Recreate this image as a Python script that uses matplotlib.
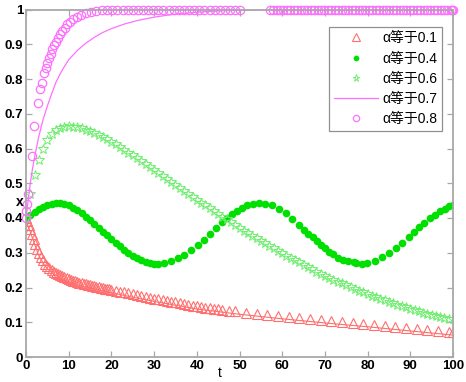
import matplotlib
matplotlib.use('Agg')
import matplotlib.pyplot as plt

plt.rcParams['font.family'] = ['Liberation Sans', 'Noto Sans CJK SC', 'DejaVu Sans']

# alpha = 0.1 (triangles) and the thin line under them
t_a1 = [0, 0.3, 0.6, 1, 1.4, 1.8, 2.2, 2.6, 3, 3.5, 4, 4.5, 5, 5.5, 6, 6.5, 7, 7.5, 8, 8.5,
        9, 9.5, 10, 10.5, 11, 11.5, 12, 12.5, 13, 13.5, 14, 14.5, 15, 15.5, 16, 16.5, 17, 17.5,
        18, 18.5, 19, 19.5, 20, 21, 22, 23, 24, 25, 26, 27, 28, 29, 30, 31, 32, 33, 34, 35,
        36, 37, 38, 39, 40, 41, 42, 43, 44, 45, 46, 47.5, 49, 51.5, 54, 56.5, 59, 61.5, 64,
        66.5, 69, 71.5, 74, 76.5, 79, 81.5, 84, 86.5, 89, 91.5, 94, 96.5, 99, 100]
x_a1 = [0.400, 0.390, 0.381, 0.368, 0.355, 0.340, 0.325, 0.310, 0.298, 0.288, 0.278, 0.269,
        0.262, 0.256, 0.251, 0.246, 0.242, 0.238, 0.235, 0.232, 0.229, 0.227, 0.224, 0.222,
        0.220, 0.218, 0.216, 0.214, 0.212, 0.211, 0.209, 0.208, 0.206, 0.205, 0.204, 0.202,
        0.201, 0.200, 0.198, 0.197, 0.196, 0.195, 0.193, 0.191, 0.188, 0.186, 0.183, 0.180,
        0.178, 0.176, 0.173, 0.171, 0.168, 0.166, 0.163, 0.161, 0.159, 0.157, 0.154, 0.152,
        0.150, 0.148, 0.146, 0.144, 0.142, 0.140, 0.139, 0.137, 0.135, 0.133, 0.131, 0.127,
        0.124, 0.121, 0.118, 0.115, 0.112, 0.109, 0.106, 0.103, 0.100, 0.097, 0.095, 0.092,
        0.089, 0.086, 0.083, 0.081, 0.078, 0.075, 0.072, 0.071]
t_a1_line = [0, 1, 2, 3, 4, 5, 6, 8, 10, 12, 15, 20, 25, 30, 40, 50, 60, 70, 80, 90, 100]
x_a1_line = [0.392, 0.360, 0.325, 0.292, 0.270, 0.254, 0.243, 0.227, 0.216, 0.208, 0.198,
             0.185, 0.172, 0.160, 0.138, 0.123, 0.110, 0.098, 0.087, 0.075, 0.063]

# alpha = 0.4 (filled dots)
t_a4 = [0, 1, 2, 3, 4, 5, 6, 7, 8, 9, 10, 11, 12, 13, 14, 15, 16, 17, 18, 19, 20, 21, 22, 23,
        24, 25, 26, 27, 28, 29, 30, 31, 32.4, 33.9, 35.5, 37.1, 38.7, 40.2, 41.7, 43.1, 44.5,
        45.8, 47.0, 48.2, 49.3, 50.5, 51.7, 53.1, 54.6, 56.0, 57.5, 59.3, 60.8, 62.4, 64.0,
        65.1, 66.1, 67.1, 68.1, 69.0, 70.0, 71.0, 72.0, 73.0, 74.3, 75.5, 76.7, 77.4, 78.6,
        79.9, 81.7, 83.3, 84.9, 86.6, 88.1, 89.7, 90.9, 92.0, 93.2, 94.5, 95.8, 96.9, 98.1,
        99.1, 100]
x_a4 = [0.400, 0.409, 0.418, 0.425, 0.431, 0.437, 0.441, 0.443, 0.444, 0.441, 0.436, 0.430,
        0.422, 0.413, 0.403, 0.393, 0.383, 0.372, 0.361, 0.350, 0.339, 0.328, 0.318, 0.308,
        0.299, 0.291, 0.284, 0.278, 0.274, 0.270, 0.268, 0.267, 0.271, 0.276, 0.284, 0.294,
        0.307, 0.322, 0.338, 0.355, 0.372, 0.388, 0.401, 0.412, 0.421, 0.429, 0.436, 0.441,
        0.443, 0.441, 0.437, 0.427, 0.414, 0.397, 0.380, 0.366, 0.355, 0.344, 0.334, 0.322,
        0.313, 0.303, 0.295, 0.286, 0.280, 0.276, 0.272, 0.271, 0.268, 0.271, 0.277, 0.287,
        0.300, 0.314, 0.329, 0.344, 0.359, 0.374, 0.387, 0.399, 0.410, 0.420, 0.427, 0.434,
        0.437]

# alpha = 0.6 (open stars)
t_a6 = list(range(0, 101))
x_a6 = [0.400, 0.470, 0.525, 0.567, 0.600, 0.624, 0.641, 0.652, 0.659, 0.663, 0.664, 0.663,
        0.661, 0.658, 0.654, 0.649, 0.644, 0.638, 0.632, 0.626, 0.619, 0.612, 0.604, 0.596,
        0.588, 0.580, 0.572, 0.563, 0.555, 0.546, 0.538, 0.529, 0.521, 0.512, 0.504, 0.495,
        0.487, 0.478, 0.470, 0.461, 0.453, 0.444, 0.436, 0.428, 0.420, 0.412, 0.404, 0.396,
        0.388, 0.380, 0.372, 0.364, 0.357, 0.349, 0.342, 0.334, 0.327, 0.320, 0.313, 0.306,
        0.299, 0.292, 0.286, 0.279, 0.273, 0.266, 0.259, 0.252, 0.246, 0.240, 0.234, 0.228,
        0.223, 0.217, 0.212, 0.206, 0.201, 0.196, 0.191, 0.186, 0.181, 0.176, 0.172, 0.167,
        0.163, 0.159, 0.155, 0.151, 0.147, 0.143, 0.139, 0.135, 0.132, 0.128, 0.125, 0.122,
        0.119, 0.116, 0.113, 0.110, 0.108]

# alpha = 0.7 (line)
t_a7 = [0, 0.5, 1, 1.5, 2, 2.5, 3, 4, 5, 6, 7, 8, 9, 10, 12, 14, 16, 18, 20, 23, 26, 30, 35,
        40, 45, 50, 60, 70, 80, 90, 100]
x_a7 = [0.400, 0.450, 0.500, 0.540, 0.575, 0.605, 0.635, 0.683, 0.722, 0.757, 0.790, 0.815,
        0.836, 0.855, 0.882, 0.903, 0.920, 0.934, 0.945, 0.958, 0.968, 0.978, 0.987, 0.992,
        0.996, 0.998, 1.0, 1.0, 1.0, 1.0, 1.0]

# alpha = 0.8 (open circles)
t_a8 = [0, 0.1, 0.25, 0.5, 1.3, 1.95, 2.7, 3.3, 3.7, 4.2, 4.6, 5.0, 5.4, 5.8, 6.2, 6.6, 7.0,
        7.5, 8.0, 8.5, 9.1, 9.7, 10.3, 11.0, 11.9, 12.9, 14.0, 15.2, 16.5, 17.8, 19.0, 20.2,
        21.4, 22.6, 23.8, 25.0, 26.2, 27.4, 28.6, 29.8, 31.0, 32.2, 33.4, 34.6, 35.8, 37.0,
        38.2, 39.4, 40.6, 41.8, 43.0, 44.2, 45.4, 46.6, 47.8, 49.0, 50.2,
        57.1, 57.9, 58.7, 59.5, 60.3, 61.1, 61.9, 62.7, 63.5, 64.3, 65.1, 65.9, 66.7, 67.5,
        68.3, 69.1, 69.9, 70.7, 71.5, 72.3, 73.1, 73.9, 74.7, 75.5, 76.3, 77.1, 77.9, 78.7,
        79.5, 80.3, 81.1, 81.9, 82.7, 83.5, 84.3, 85.1, 85.9, 86.7, 87.5, 88.3, 89.1, 89.9,
        90.7, 91.5, 92.3, 93.1, 93.9, 94.7, 95.5, 96.3, 97.1, 97.9, 98.7, 99.5, 99.8, 100]
x_a8 = [0.400, 0.420, 0.440, 0.470, 0.577, 0.664, 0.731, 0.770, 0.789, 0.816, 0.832, 0.846,
        0.860, 0.873, 0.886, 0.897, 0.907, 0.918, 0.929, 0.938, 0.948, 0.957, 0.965, 0.972,
        0.979, 0.985, 0.989, 0.993, 0.996, 0.998, 0.999, 1.0, 1.0, 1.0, 1.0, 1.0, 1.0, 1.0,
        1.0, 1.0, 1.0, 1.0, 1.0, 1.0, 1.0, 1.0, 1.0, 1.0, 1.0, 1.0, 1.0, 1.0, 1.0, 1.0, 1.0,
        1.0, 1.0,
        1.0, 1.0, 1.0, 1.0, 1.0, 1.0, 1.0, 1.0, 1.0, 1.0, 1.0, 1.0, 1.0, 1.0, 1.0, 1.0, 1.0,
        1.0, 1.0, 1.0, 1.0, 1.0, 1.0, 1.0, 1.0, 1.0, 1.0, 1.0, 1.0, 1.0, 1.0, 1.0, 1.0, 1.0,
        1.0, 1.0, 1.0, 1.0, 1.0, 1.0, 1.0, 1.0, 1.0, 1.0, 1.0, 1.0, 1.0, 1.0, 1.0, 1.0, 1.0,
        1.0, 1.0, 1.0, 1.0, 1.0]

labels = ['α等于0.1', 'α等于0.4', 'α等于0.6', 'α等于0.7', 'α等于0.8']
xticks = [0, 10, 20, 30, 40, 50, 60, 70, 80, 90, 100]
yticks = [0, 0.1, 0.2, 0.3, 0.4, 0.5, 0.6, 0.7, 0.8, 0.9, 1]
ytick_labels = ['0', '0.1', '0.2', '0.3', '0.4', '0.5', '0.6', '0.7', '0.8', '0.9', '1']

fig = plt.figure(figsize=(4.66, 3.82), dpi=100)
ax = fig.add_axes([26/466, 25/382, 427/466, 347.5/382])

red = '#ff6f6f'
ax.plot(t_a1_line, x_a1_line, '-', color=red, lw=0.8)
h1, = ax.plot(t_a1, x_a1, '^', color=red, mfc='none', ms=7, mew=0.8, label=labels[0])
h2, = ax.plot(t_a4, x_a4, 'o', color='#00e000', ms=5.5, mew=0, label=labels[1])
h3, = ax.plot(t_a6, x_a6, '*', color='#70ee70', mfc='none', ms=7, mew=0.7, label=labels[2])
h4, = ax.plot(t_a7, x_a7, '-', color='#ff70ff', lw=0.9, label=labels[3])
h5, = ax.plot(t_a8, x_a8, 'o', color='#ff70ff', mfc='none', ms=6, mew=0.9, label=labels[4],
              clip_on=False)

ax.set_xlim(0, 100)
ax.set_ylim(0, 1)
ax.set_xticks(xticks)
ax.set_xticklabels([str(v) for v in xticks])
ax.set_yticks(yticks)
ax.set_yticklabels(ytick_labels)

for s in ax.spines.values():
    s.set_color('#a8a8a8')
    s.set_linewidth(1.3)
ax.tick_params(direction='in', top=True, right=True, length=4, width=0.9,
               color='#a8a8a8', labelcolor='black', labelsize=9.5, pad=2)
for lab in ax.get_xticklabels() + ax.get_yticklabels():
    lab.set_fontweight('bold')

fig.text(20/466, 1 - 202/382, 'x', fontsize=10, fontweight='bold', ha='center', va='center')
fig.text(220/466, 1 - 373/382, 't', fontsize=10, ha='center', va='center')

leg = ax.legend(handles=[h1, h2, h3, h4, h5], loc='upper right',
                bbox_to_anchor=(442/466, 1 - 26.5/382), bbox_transform=fig.transFigure,
                borderaxespad=0, fancybox=False, framealpha=1, edgecolor='#909090',
                fontsize=10, handlelength=3.2, handletextpad=0.3, labelspacing=0.45,
                borderpad=0.35, markerscale=0.75)
leg.get_frame().set_linewidth(0.9)

fig.savefig('out.png', dpi=100)
